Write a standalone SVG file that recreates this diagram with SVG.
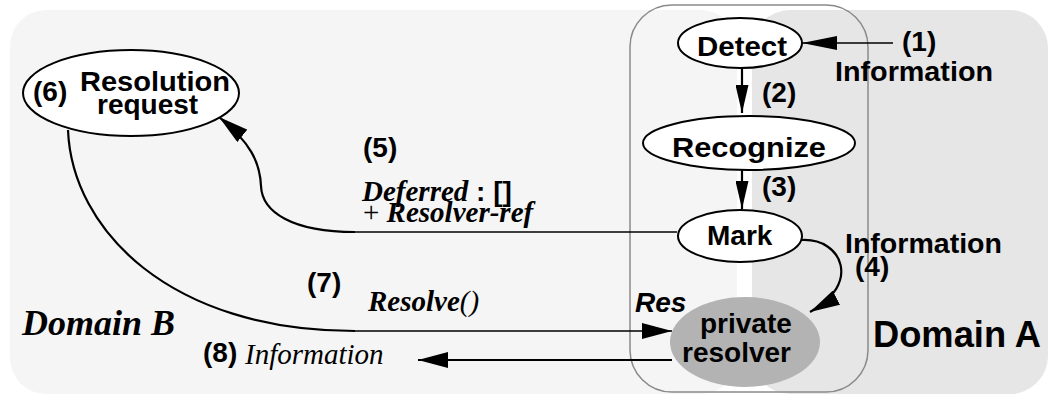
<svg xmlns="http://www.w3.org/2000/svg" width="1052" height="395" viewBox="0 0 1052 395">
  <style>
    .sans { font-family: "Liberation Sans", Arial, sans-serif; font-weight: bold; font-style: normal; font-size: 28px; fill: #000; }
    .sansi { font-family: "Liberation Sans", Arial, sans-serif; font-weight: bold; font-style: italic; font-size: 28px; fill: #000; }
    .serif { font-family: "Liberation Serif", "Times New Roman", serif; font-style: italic; font-size: 29px; fill: #000; }
    .bi { font-weight: bold; }
    .upright { font-style: normal; }
    .big { font-size: 36px; }
    .node { fill: #fff; stroke: #000; stroke-width: 2; }
    .edge { fill: none; stroke: #000; stroke-width: 2.2; }
    .thin { fill: none; stroke: #000; stroke-width: 1.6; }
  </style>
  <defs>
    <marker id="ah" viewBox="0 0 30 16" refX="30" refY="8" markerWidth="30" markerHeight="16" markerUnits="userSpaceOnUse" orient="auto">
      <path d="M0,0 L30,8 L0,16 z" fill="#000"/>
    </marker>
    <marker id="ah-small" viewBox="0 0 28 13" refX="28" refY="6.5" markerWidth="28" markerHeight="13" markerUnits="userSpaceOnUse" orient="auto">
      <path d="M0,0 L28,6.5 L0,13 z" fill="#000"/>
    </marker>
    <marker id="ah-long" viewBox="0 0 35 14" refX="35" refY="7" markerWidth="35" markerHeight="14" markerUnits="userSpaceOnUse" orient="auto">
      <path d="M0,0 L35,7 L0,14 z" fill="#000"/>
    </marker>
  </defs>

  <!-- domain backgrounds -->
  <g id="domains">
    <rect width="1052" height="395" fill="#fff"/>
    <rect id="domain-b" x="10" y="10" width="727" height="384" rx="36" fill="#f5f5f5"/>
    <rect id="domain-a" x="752" y="10" width="296" height="384" rx="38" fill="#e6e6e6"/>
    <rect id="agent-boundary" x="630" y="5" width="238" height="387" rx="42" fill="none" stroke="#8a8a8a" stroke-width="1.5"/>
  </g>

  <!-- connectors -->
  <g id="connectors">
    <path class="thin" d="M893,43 L802,43" marker-end="url(#ah-long)"/>
    <path class="edge" d="M742,68 L742,113" marker-end="url(#ah-small)"/>
    <path class="edge" d="M742,170 L742,209" marker-end="url(#ah-small)"/>
    <path class="edge" d="M802,240 C842,238 862,284 810,312" marker-end="url(#ah)"/>
    <path class="thin" d="M677,232 L355,232"/>
    <path class="edge" d="M355,232 C292,232 262,212 261,186 C260,162 250,142 219,117" marker-end="url(#ah)"/>
    <path class="edge" d="M68,130 C72,230 170,331 355,331"/>
    <path class="thin" d="M355,331 L672,331" stroke-width="2" marker-end="url(#ah)"/>
    <path class="edge" d="M672,360 L418,360" marker-end="url(#ah)"/>
  </g>

  <!-- nodes -->
  <g id="resolution-request">
    <ellipse class="node" cx="131" cy="93" rx="108" ry="43"/>
    <text class="sans" x="33" y="101">(6)</text>
    <text class="sans" x="80" y="91" textLength="150" lengthAdjust="spacingAndGlyphs">Resolution</text>
    <text class="sans" x="97" y="114">request</text>
  </g>
  <g id="detect">
    <ellipse class="node" cx="740" cy="43" rx="62" ry="25"/>
    <text class="sans" x="697" y="56" textLength="90" lengthAdjust="spacingAndGlyphs">Detect</text>
  </g>
  <g id="recognize">
    <ellipse class="node" cx="749" cy="143" rx="106" ry="27"/>
    <text class="sans" x="672" y="157" textLength="154" lengthAdjust="spacingAndGlyphs">Recognize</text>
  </g>
  <g id="mark">
    <ellipse class="node" cx="740" cy="236" rx="62" ry="26"/>
    <text class="sans" x="707" y="245">Mark</text>
  </g>
  <g id="private-resolver">
    <ellipse cx="745" cy="342" rx="75" ry="45" fill="#b3b3b3"/>
    <text class="sans" x="700" y="333">private</text>
    <text class="sans" x="682" y="362">resolver</text>
  </g>

  <!-- labels -->
  <g id="labels">
    <text class="sans" x="902" y="51">(1)</text>
    <text class="sans" x="835" y="81" textLength="158" lengthAdjust="spacingAndGlyphs">Information</text>
    <text class="sans" x="762" y="102">(2)</text>
    <text class="sans" x="762" y="196">(3)</text>
    <text class="sans" x="845" y="253" textLength="157" lengthAdjust="spacingAndGlyphs">Information</text>
    <text class="sans" x="855" y="276">(4)</text>
    <text class="sans" x="363" y="157">(5)</text>
    <text class="serif" x="362" y="201"><tspan class="bi">Deferred</tspan><tspan class="sans"> : []</tspan></text>
    <text class="serif" x="363" y="222"><tspan class="upright">+ </tspan><tspan class="bi">Resolver-ref</tspan></text>
    <text class="sans" x="307" y="292">(7)</text>
    <text class="serif" x="368" y="311"><tspan class="bi">Resolve</tspan><tspan>()</tspan></text>
    <text class="sansi" x="635" y="312">Res</text>
    <text class="serif bi big" x="22" y="335">Domain B</text>
    <text class="sans big" x="873" y="347" textLength="168" lengthAdjust="spacingAndGlyphs">Domain A</text>
    <text class="sans" x="203" y="362">(8)</text>
    <text class="serif" x="245" y="364">Information</text>
  </g>
</svg>
